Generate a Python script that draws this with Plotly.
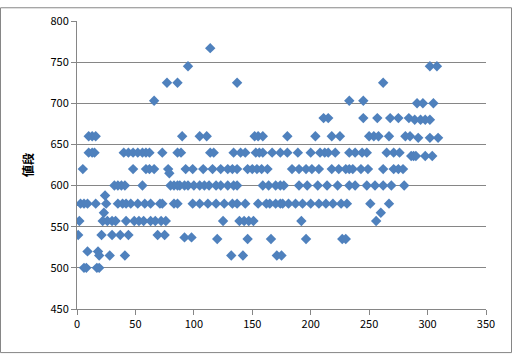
import plotly.graph_objects as go

# (x values, y level)
lv767 = [114]
lv745 = [95, 302, 308]
lv725 = [77, 86, 137, 262]
lv703 = [66, 233, 245]
lv700 = [291, 296, 305]
lv682 = [211, 215, 245, 257, 268, 275, 284]
lv680 = [289, 294, 298, 302]
lv660 = [10, 13, 16, 90, 105, 111, 152, 155, 159, 180, 204, 218, 225, 250, 254, 258, 267, 281, 285]
lv658 = [292, 302, 309]
lv640 = [10, 13, 15, 40, 44, 48, 52, 56, 59, 62, 73, 86, 89, 114, 117, 134, 140, 144, 153, 156,
         159, 167, 174, 180, 189, 200, 208, 212, 215, 221, 233, 238, 244, 248, 265, 271, 276]
lv636 = [286, 288, 290, 298, 304]
lv620 = [5, 48, 59, 62, 66, 78, 93, 99, 108, 116, 123, 129, 133, 137, 146, 150, 154, 158, 163,
         184, 190, 196, 201, 207, 218, 224, 230, 233, 236, 243, 249, 262, 271, 275, 279]
lv615 = [79]
lv600 = [32, 35, 38, 41, 56, 80, 83, 86, 88, 92, 95, 100, 105, 109, 113, 119, 123, 129, 134, 137,
         159, 164, 170, 174, 177, 190, 197, 206, 214, 223, 233, 238, 248, 255, 262, 269, 280]
lv588 = [24]
lv578 = [3, 6, 9, 16, 25, 35, 39, 42, 46, 52, 58, 63, 71, 73, 83, 86, 99, 105, 112, 119, 126, 133,
         137, 144, 155, 162, 165, 170, 174, 176, 181, 187, 193, 200, 207, 213, 219, 226, 231, 251, 267]
lv567 = [23, 260]
lv557 = [2, 22, 26, 30, 33, 42, 49, 53, 57, 63, 67, 72, 76, 125, 139, 143, 147, 151, 192, 256]
lv540 = [1, 21, 30, 37, 44, 69, 75]
lv537 = [92, 98]
lv535 = [120, 146, 166, 196, 227, 230]
lv520 = [9, 18]
lv515 = [19, 28, 41, 132, 142, 171, 175]
lv500 = [6, 8, 17, 19]

levels = [
    (767, lv767), (745, lv745), (725, lv725), (703, lv703), (700, lv700), (682, lv682),
    (680, lv680), (660, lv660), (658, lv658), (640, lv640), (636, lv636), (620, lv620),
    (615, lv615), (600, lv600), (588, lv588), (578, lv578), (567, lv567), (557, lv557),
    (540, lv540), (537, lv537), (535, lv535), (520, lv520), (515, lv515), (500, lv500),
]

xs, ys = [], []
for yv, xl in levels:
    for xv in xl:
        xs.append(xv)
        ys.append(yv)

x_ticks = [0, 50, 100, 150, 200, 250, 300, 350]
y_ticks = [450, 500, 550, 600, 650, 700, 750, 800]
y_title = "値段"

fig = go.Figure()
fig.add_trace(go.Scatter(
    x=xs, y=ys, mode="markers",
    marker=dict(symbol="diamond", size=8, color="#4F81BD", line=dict(width=0)),
    showlegend=False,
))

grid = "#868686"
fig.update_layout(
    width=513, height=355,
    margin=dict(l=77, r=27, t=15, b=46),
    paper_bgcolor="white", plot_bgcolor="white",
    font=dict(family="Noto Sans CJK JP, Noto Sans, sans-serif", size=11, color="black"),
    xaxis=dict(range=[0, 350], tickvals=x_ticks, showgrid=False, zeroline=False,
               showline=True, linecolor=grid, linewidth=1, ticks="outside",
               ticklen=5, tickcolor=grid, tickfont=dict(size=11)),
    yaxis=dict(range=[450, 800], tickvals=y_ticks, showgrid=True, gridcolor=grid,
               gridwidth=1, zeroline=False, showline=True, linecolor=grid, linewidth=1,
               ticks="outside", ticklen=5, tickcolor=grid, tickfont=dict(size=11),
               title=dict(text="<b>" + y_title + "</b>", font=dict(size=12), standoff=14)),
    shapes=[dict(type="rect", xref="paper", yref="paper",
                 x0=-76.5 / 409, x1=(511.5 - 77) / 409,
                 y0=-(353.5 - 309) / 294, y1=(309 - 1.5) / 294,
                 line=dict(color=grid, width=1))],
)

fig.write_html("out.html")
